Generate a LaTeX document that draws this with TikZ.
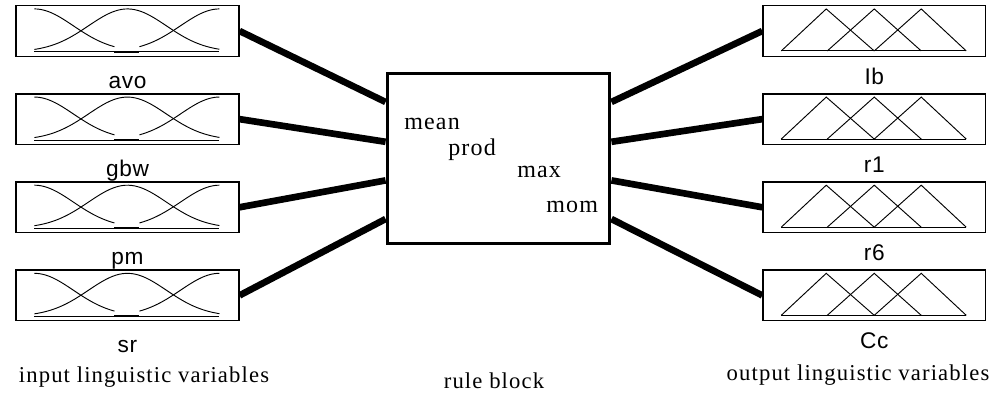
\documentclass[tikz,border=0pt]{standalone}
\usepackage{fontspec}
\newfontfamily\namefont[LetterSpace=3]{Liberation Sans}
\newfontfamily\notefont[LetterSpace=5]{Liberation Serif}
\usetikzlibrary{positioning, calc}
\tikzset{
  mfbox/.style = {draw, line width = 1.1pt, inner sep = 0pt,
    minimum width = 167pt, minimum height = 38pt},
  ruleblock/.style = {draw, line width = 2.4pt, inner sep = 0pt,
    minimum width = 167pt, minimum height = 128pt},
  mf/.style = {line width = 0.7pt},
  link/.style = {line width = 5pt},
  varname/.style = {font = \namefont\fontsize{17pt}{20pt}\selectfont,
    inner sep = 0pt, anchor = base},
  caption/.style = {font = \notefont\fontsize{17pt}{20pt}\selectfont,
    inner sep = 0pt, anchor = base},
  method/.style = {font = \notefont\fontsize{18pt}{21pt}\selectfont,
    inner sep = 0pt, anchor = base west}
}

\begin{document}
\begin{tikzpicture}[x = 0.75pt, y = -0.75pt]
\useasboundingbox (0,0) rectangle (1002,396);

%% Input variables
\node [mfbox] (in1) at (127.5,31) {};
\node [mfbox] (in2) [below = 27pt of in1] {};
\node [mfbox] (in3) [below = 27pt of in2] {};
\node [mfbox] (in4) [below = 27pt of in3] {};

%% Output variables
\node [mfbox] (out1) [right = 392pt of in1] {};
\node [mfbox] (out2) [right = 392pt of in2] {};
\node [mfbox] (out3) [right = 392pt of in3] {};
\node [mfbox] (out4) [right = 392pt of in4] {};

%% Rule block
\node [ruleblock] (rule) at (498.5,158.5) {};

%% Names
\foreach \i/\name in {1/avo, 2/gbw, 3/pm, 4/sr}
  \node [varname] (\name) at ($(in\i.south) + (0,31)$) {\name};
\foreach \i/\name in {1/Ib, 2/r1, 3/r6, 4/Cc}
  \node [varname] (\name) at ($(out\i.south) + (0,27)$) {\name};

%% Membership functions
\foreach \i in {1,...,4} {
  \begin{scope}[shift = {(in\i.north west)}]
    \draw [mf] (19,47) -- (204,47);
    \draw [mf, line width = 1.6pt] (99,47) -- (124,47);
    \draw [mf] plot [domain = 19:99, samples = 40]
      (\x, {47 - 43*exp(0 - (\x-19)*(\x-19)/3042)});
    \draw [mf] plot [domain = 19:204, samples = 60]
      (\x, {47 - 43*exp(0 - (\x-112)*(\x-112)/3042)});
    \draw [mf] plot [domain = 124:204, samples = 40]
      (\x, {47 - 43*exp(0 - (\x-204)*(\x-204)/3042)});
  \end{scope}
  \begin{scope}[shift = {(out\i.north west)}]
    \draw [mf] (19,46) -- (204,46);
    \foreach \a/\b/\c in {19/64/112, 65/112/159, 112/159/204}
      \draw [mf] (\a,46) -- (\b,4) -- (\c,46);
  \end{scope}
}

%% Connectors
\foreach \i/\f in {1/0.175, 2/0.404, 3/0.626, 4/0.848} {
  \draw [link] (in\i.east) -- ($(rule.north west)!\f!(rule.south west)$);
  \draw [link] ($(rule.north east)!\f!(rule.south east)$) -- (out\i.west);
}

%% Rule block methods
\node [method] (mean) at (404,129) {mean};
\node [method] (prod) at (448,155) {prod};
\node [method] (max) at (517,177) {max};
\node [method] (mom) at (546,212) {mom};

%% Captions
\node [caption] (inputs) at (144,382) {input linguistic variables};
\node [caption] (rules) at (494,388) {rule block};
\node [caption] (outputs) at (858,380) {output linguistic variables};

\end{tikzpicture}
\end{document}
